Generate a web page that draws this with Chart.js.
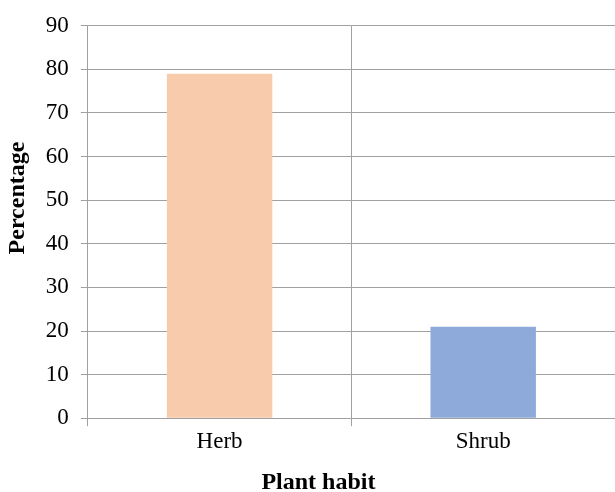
<!DOCTYPE html>
<html>
<head>
<meta charset="utf-8">
<script src="https://cdn.jsdelivr.net/npm/chart.js@4/dist/chart.umd.min.js"></script>
<style>
  html, body { margin: 0; padding: 0; background: #fff; }
  #wrap { width: 615px; height: 492px; }
</style>
</head>
<body>
<div id="wrap"><canvas id="myChart" width="615" height="492"></canvas></div>
<script>
// values
let habits = ["Herb", "Shrub"];
let percentage = [79, 21];
let barColors = ["#F7CBAC", "#8EAADB"];

let gridGray = "#a0a0a0";
let serif = "'Liberation Serif', 'Times New Roman', serif";

// the axis titles sit off the plot centre in the original, nudge them with spaces
let nb = (n) => "\u00a0".repeat(n);

var ctx = document.getElementById("myChart");

var myBarChart = new Chart(ctx, {
  type: "bar",
  data: {
    labels: habits,
    datasets: [
      {
        data: percentage,
        backgroundColor: barColors,
        borderWidth: 0,
        categoryPercentage: 1,
        barPercentage: 0.4,
      },
    ],
  },
  options: {
    responsive: false,
    animation: false,
    layout: { padding: { top: 10, right: 0, left: 3, bottom: 0 } },
    plugins: {
      legend: { display: false },
      tooltip: { enabled: false },
    },
    scales: {
      x: {
        grid: {
          color: gridGray,
          lineWidth: 1,
          tickLength: 8,
          offset: true,
        },
        border: { color: gridGray, width: 1 },
        ticks: {
          color: "#000",
          font: { family: serif, size: 23 },
          padding: 2,
        },
        title: {
          display: true,
          text: "Plant habit" + nb(11),
          color: "#000",
          font: { family: serif, size: 24, weight: "bold", lineHeight: 0.8 },
          padding: { top: 15, bottom: 0 },
        },
      },
      y: {
        min: 0,
        max: 90,
        ticks: {
          stepSize: 10,
          color: "#000",
          font: { family: serif, size: 23 },
          padding: 12,
        },
        grid: {
          color: gridGray,
          lineWidth: 1,
          tickLength: 7,
        },
        border: { color: gridGray, width: 1 },
        title: {
          display: true,
          text: nb(8) + "Percentage",
          color: "#000",
          font: { family: serif, size: 24, weight: "bold" },
          padding: { top: 0, bottom: 2 },
        },
      },
    },
  },
});
</script>
</body>
</html>
